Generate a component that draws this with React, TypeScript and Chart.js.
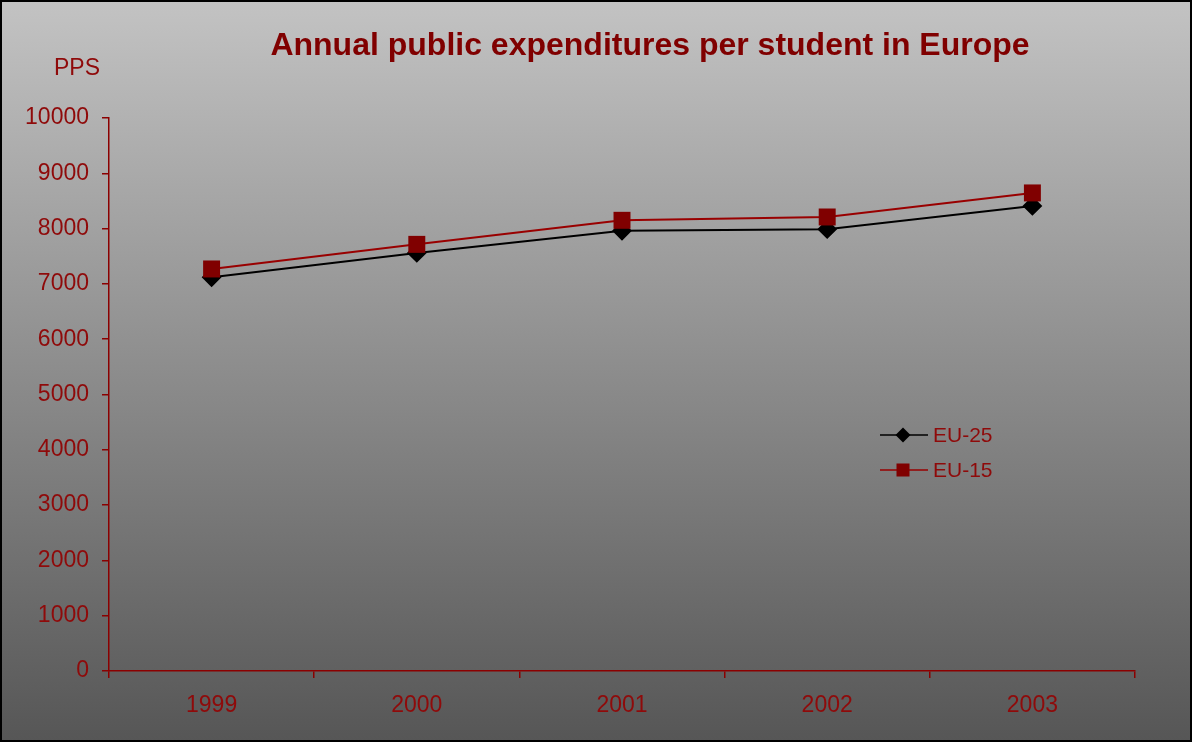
import React, { useEffect, useRef } from "react";
import { Chart, registerables } from "chart.js";

Chart.register(...registerables);

const categories = ["1999", "2000", "2001", "2002", "2003"];
const eu25 = [7120, 7560, 7960, 7990, 8410];
const eu15 = [7270, 7715, 8150, 8210, 8645];
const seriesNames = ["EU-25", "EU-15"];
const yTicks = [0, 1000, 2000, 3000, 4000, 5000, 6000, 7000, 8000, 9000, 10000];
const titleText = "Annual public expenditures per student in Europe";
const unitText = "PPS";

const DARK_RED = "#8b0000";
const TEXT_RED = "#8f0a0a";
const FONT = "'Liberation Sans', Arial, sans-serif";

export default function App() {
  const ref = useRef<HTMLCanvasElement | null>(null);

  useEffect(() => {
    document.body.style.margin = "0";
    const canvas = ref.current!;
    const overlay = {
      id: "overlay",
      afterDraw(chart: any) {
        const ctx = chart.ctx;
        ctx.save();
        // title
        ctx.fillStyle = "#800000";
        ctx.font = `bold 32px ${FONT}`;
        ctx.textAlign = "center";
        ctx.textBaseline = "alphabetic";
        ctx.fillText(titleText, 650, 55);
        // unit
        ctx.fillStyle = TEXT_RED;
        ctx.font = `23px ${FONT}`;
        ctx.textAlign = "left";
        ctx.fillText(unitText, 54, 75);
        // legend
        const items = chart.data.datasets
          .map((d: any, i: number) => ({ d, i }))
          .sort((a: any, b: any) => (a.d.legendIndex ?? 0) - (b.d.legendIndex ?? 0));
        items.forEach((it: any, k: number) => {
          const d = it.d;
          const y = 435 + k * 35;
          ctx.strokeStyle = d.borderColor;
          ctx.lineWidth = 1.5;
          ctx.beginPath();
          ctx.moveTo(880, y);
          ctx.lineTo(928, y);
          ctx.stroke();
          ctx.fillStyle = d.pointBackgroundColor;
          ctx.beginPath();
          if (d.pointStyle === "rectRot") {
            const r = 7.5;
            ctx.moveTo(903 - r, y);
            ctx.lineTo(903, y - r);
            ctx.lineTo(903 + r, y);
            ctx.lineTo(903, y + r);
            ctx.closePath();
          } else {
            ctx.rect(903 - 6.5, y - 6.5, 13, 13);
          }
          ctx.fill();
          ctx.fillStyle = TEXT_RED;
          ctx.font = `21px ${FONT}`;
          ctx.textAlign = "left";
          ctx.textBaseline = "middle";
          ctx.fillText(d.label, 933, y + 1);
        });
        ctx.restore();
      },
    };

    const chart = new Chart(canvas, {
      type: "line",
      data: {
        labels: categories,
        datasets: [
          {
            label: seriesNames[0],
            data: eu25,
            borderColor: "#000000",
            backgroundColor: "#000000",
            pointBackgroundColor: "#000000",
            pointBorderColor: "#000000",
            pointStyle: "rectRot",
            pointRadius: 8.5,
            borderWidth: 2,
            order: 2,
            legendIndex: 0,
          } as any,
          {
            label: seriesNames[1],
            data: eu15,
            borderColor: "#990000",
            backgroundColor: "#800000",
            pointBackgroundColor: "#800000",
            pointBorderColor: "#800000",
            pointStyle: "rect",
            pointRadius: 12,
            pointBorderWidth: 0,
            borderWidth: 2,
            order: 1,
            legendIndex: 1,
          } as any,
        ],
      },
      options: {
        responsive: false,
        animation: false,
        layout: { padding: { top: 118, right: 57, left: 0, bottom: 0 } },
        plugins: {
          legend: { display: false },
          title: { display: false },
          tooltip: { enabled: false },
        },
        scales: {
          x: {
            offset: true,
            grid: {
              offset: true,
              drawOnChartArea: false,
              drawTicks: true,
              tickLength: 7,
              color: DARK_RED,
              lineWidth: 1.5,
            },
            border: { color: DARK_RED, width: 1.5 },
            ticks: {
              color: TEXT_RED,
              font: { family: FONT, size: 23 },
              padding: 14,
              maxRotation: 0,
            },
            afterFit(scale: any) {
              scale.height = 71;
            },
          },
          y: {
            min: 0,
            max: 10000,
            afterBuildTicks(scale: any) {
              scale.ticks = yTicks.map((v) => ({ value: v }));
            },
            grid: {
              drawOnChartArea: false,
              drawTicks: true,
              tickLength: 7,
              color: DARK_RED,
              lineWidth: 1.5,
            },
            border: { color: DARK_RED, width: 1.5 },
            ticks: {
              color: TEXT_RED,
              font: { family: FONT, size: 23 },
              padding: 13,
              callback: (v: any) => String(v),
            },
            afterFit(scale: any) {
              scale.width = 109;
            },
          },
        },
      },
      plugins: [overlay],
    });
    return () => chart.destroy();
  }, []);

  return (
    <div
      style={{
        position: "fixed",
        left: 0,
        top: 0,
        width: 1192,
        height: 742,
        background: "linear-gradient(to bottom, #c3c3c3 0%, #565656 100%)",
      }}
    >
      <canvas ref={ref} width={1192} height={742} style={{ position: "absolute", left: 0, top: 0 }} />
      <div
        style={{
          position: "absolute",
          left: 0,
          top: 0,
          width: 1192,
          height: 742,
          boxSizing: "border-box",
          border: "2px solid #000",
          pointerEvents: "none",
        }}
      />
    </div>
  );
}
